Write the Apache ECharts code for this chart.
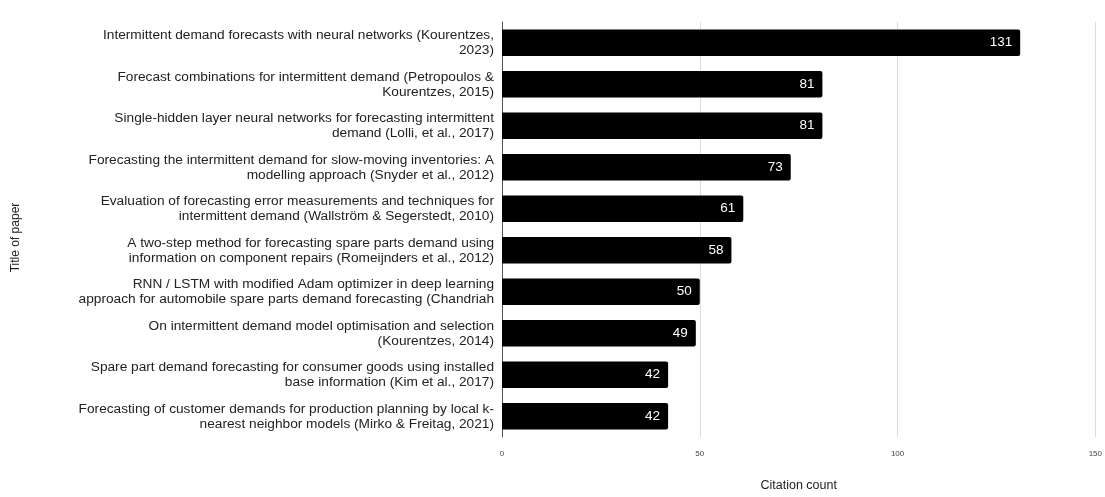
<!DOCTYPE html>
<html><head><meta charset="utf-8">
<script src="https://cdn.jsdelivr.net/npm/echarts@6/dist/echarts.min.js"></script>
<style>html,body{margin:0;padding:0;background:#fff}#c{width:1105px;height:497px}</style>
</head><body><div id="c"></div>
<script>
const categories = [
  "Intermittent demand forecasts with neural networks (Kourentzes,\n2023)",
  "Forecast combinations for intermittent demand (Petropoulos &\nKourentzes, 2015)",
  "Single-hidden layer neural networks for forecasting intermittent\ndemand (Lolli, et al., 2017)",
  "Forecasting the intermittent demand for slow-moving inventories: A\nmodelling approach (Snyder et al., 2012)",
  "Evaluation of forecasting error measurements and techniques for\nintermittent demand (Wallström & Segerstedt, 2010)",
  "A two-step method for forecasting spare parts demand using\ninformation on component repairs (Romeijnders et al., 2012)",
  "RNN / LSTM with modified Adam optimizer in deep learning\napproach for automobile spare parts demand forecasting (Chandriah",
  "On intermittent demand model optimisation and selection\n(Kourentzes, 2014)",
  "Spare part demand forecasting for consumer goods using installed\nbase information (Kim et al., 2017)",
  "Forecasting of customer demands for production planning by local k-\nnearest neighbor models (Mirko & Freitag, 2021)"
];
const citations = [131, 81, 81, 73, 61, 58, 50, 49, 42, 42];
const xTicks = [0, 50, 100, 150];

const chart = echarts.init(document.getElementById('c'), null, {renderer: 'canvas'});
chart.setOption({
  animation: false,
  textStyle: {fontFamily: 'Liberation Sans, Arial, sans-serif'},
  grid: {left: 502, right: 8, top: 22, bottom: 53, containLabel: false},
  xAxis: {
    type: 'value', min: xTicks[0], max: xTicks[xTicks.length - 1], interval: xTicks[1] - xTicks[0],
    name: 'Citation count', nameLocation: 'middle', nameGap: 42,
    nameTextStyle: {fontSize: 12.5, color: '#222'},
    axisLine: {show: false}, axisTick: {show: false},
    axisLabel: {fontSize: 8, color: '#444', margin: 13},
    splitLine: {lineStyle: {color: '#dcdcdc', width: 1}}
  },
  yAxis: {
    type: 'category', inverse: true, data: categories,
    name: 'Title of paper', nameLocation: 'middle', nameGap: 480, nameRotate: 90,
    nameTextStyle: {fontSize: 12, color: '#222', padding: [0, 16, 0, 0]},
    axisLine: {show: true, lineStyle: {color: '#555', width: 1}},
    axisTick: {show: false},
    axisLabel: {fontSize: 13.7, color: '#222', margin: 8, lineHeight: 15, align: 'right', padding: [0, 0, 5, 0]}
  },
  series: [{
    type: 'bar', data: citations, barCategoryGap: '36%',
    itemStyle: {color: '#000', borderRadius: [0, 2, 2, 0]},
    label: {show: true, position: 'insideRight', color: '#fff', fontSize: 13.5, distance: 8}
  }]
});
</script></body></html>
